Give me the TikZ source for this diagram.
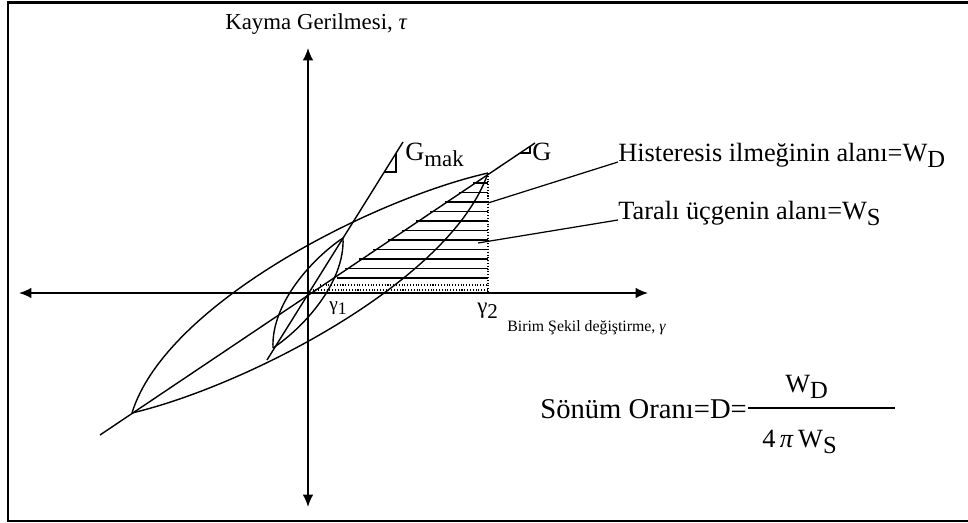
\documentclass[tikz,border=0pt]{standalone}
\usepackage{fontspec}
\setmainfont{Liberation Serif}
\usetikzlibrary{arrows.meta, positioning}

% lowered subscript in the text font
\newcommand{\lowsub}[2][11]{\raisebox{-0.45ex}{\fontsize{#1}{#1}\selectfont #2}}

\begin{document}
\begin{tikzpicture}[x=0.02cm, y=-0.02cm, >={Latex[length=7pt, width=6pt]},
  axis/.style={<->, line width=0.9pt},
  curve/.style={line width=0.8pt},
  hatch/.style={line width=0.6pt},
  lbl/.style={inner sep=0pt, anchor=base west, font=\fontsize{15}{18}\selectfont}]

\useasboundingbox (0,0) rectangle (968,523);

% --- Frame ---
\draw[line width=1.2pt] (968,2.5) -- (8,2.5) -- (8,521) -- (968,521);

% --- Key points ---
\coordinate (origin) at (308,293);
\coordinate (loopLow) at (132,413);   % large loop, lower tip
\coordinate (loopUp) at (488,173);    % large loop, upper tip
\coordinate (smallLow) at (273,348);  % small loop, lower tip
\coordinate (smallUp) at (343,238);   % small loop, upper tip
\coordinate (gamTwo) at (488,293);

% --- Axes ---
\coordinate (tauTop) at (308,48);
\coordinate (tauBot) at (308,507);
\coordinate (gamLeft) at (19,293);
\coordinate (gamRight) at (648,293);
\draw[axis] (tauBot) -- (tauTop);
\draw[axis] (gamLeft) -- (gamRight);
\node[lbl, font=\fontsize{13}{15}\selectfont] (tauLbl) at (225,30) {Kayma Gerilmesi, \textit{τ}};
\node[lbl, font=\fontsize{9}{11}\selectfont] (gamLbl) at (507,332) {Birim Şekil değiştirme, \textit{γ}};

% --- Hatched triangle ---
% lines run from the G line (slope 2/3 through the origin) to gamma_2
\foreach \yy in {183,192.5,...,270} {
  \pgfmathsetmacro{\xx}{308+(293-\yy)*1.5}
  \draw[hatch] (\xx,\yy) -- (488,\yy);
}
\draw[line width=1.1pt] (337,278) -- (488,278);
\foreach \yy in {285,290} {
  \pgfmathsetmacro{\xx}{308+(293-\yy)*1.5}
  \draw[hatch, densely dotted] (\xx,\yy) -- (488,\yy);
}
\draw[hatch, densely dotted] (loopUp) -- (gamTwo);

% --- Modulus lines ---
\coordinate (gLow) at (100,435);
\coordinate (gHigh) at (535,143);
\draw[curve] (gLow) -- (gHigh);
\draw[curve] (520,153) -- (530,153) -- (530,146.3);
\node[lbl] (gLbl) at (532,161) {G};

\coordinate (gmLow) at (267,360);
\coordinate (gmHigh) at (403,142);
\draw[curve] (gmLow) -- (gmHigh);
\draw[curve] (384.3,172) -- (396,172) -- (396,153.2);
\node[lbl] (gmLbl) at (405,161) {G\lowsub[13]{mak}};

% --- Large hysteresis loop ---
\draw[curve] (loopLow) .. controls (165,305) and (370,200) .. (loopUp);
\draw[curve] (loopLow) .. controls (246,386) and (451,281) .. (loopUp);

% --- Small hysteresis loop ---
\draw[curve] (smallLow) .. controls (271,303) and (313,258) .. (smallUp);
\draw[curve] (smallLow) .. controls (303,328) and (345,283) .. (smallUp);

% --- Strain labels ---
\node[lbl, font=\fontsize{11}{13}\selectfont] (gamOne) at (329,311) {γ\lowsub[10]{1}};
\node[lbl, font=\fontsize{13}{15}\selectfont] (gamTwoLbl) at (477,314) {γ\lowsub[12]{2}};

% --- Area labels with leaders ---
\node[lbl] (hisLbl) at (618,162) {Histeresis ilmeğinin alanı=W\lowsub[14]{D}};
\node[lbl] (tarLbl) at (618,220) {Taralı üçgenin alanı=W\lowsub[14]{S}};
\coordinate (hisEnd) at (488,203);
\coordinate (tarEnd) at (478,243);
\draw[line width=0.7pt] (hisEnd) -- (hisLbl.base west);
\draw[line width=0.7pt] (tarEnd) -- (tarLbl.base west);

% --- Damping ratio ---
\node[lbl, font=\fontsize{16.3}{19}\selectfont] (dampLbl) at (540,419) {Sönüm Oranı=D=};
\coordinate (barLeft) at (748,408);
\coordinate (barRight) at (895,408);
\draw[line width=0.8pt] (barLeft) -- (barRight);
\node[lbl] (numLbl) at (785,393) {W\lowsub[14]{D}};
\node[lbl] (denLbl) at (762,448) {4\,\textit{π}\,W\lowsub[14]{S}};

\end{tikzpicture}
\end{document}
